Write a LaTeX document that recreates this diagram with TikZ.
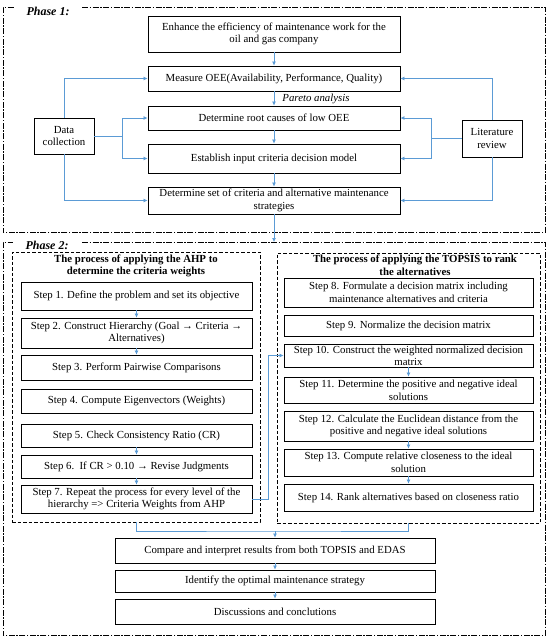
\documentclass[tikz,border=0pt]{standalone}
\usepackage{fontspec}
\setmainfont{Liberation Serif}
\usetikzlibrary{arrows.meta}
\definecolor{conncol}{RGB}{91,155,213}
\begin{document}
\begin{tikzpicture}[x=1pt,y=-1pt,
 box/.style={draw=black, line width=0.9pt, align=center, inner sep=1pt, font=\fontsize{10.8}{12.6}\selectfont},
 conn/.style={draw=conncol, line width=0.7pt},
 arr/.style={conn, -{Latex[length=4pt,width=4pt]}},
 phaseframe/.style={draw=black, line width=0.7pt, dash pattern=on 6pt off 1.5pt on 1.5pt off 1.5pt},
 subframe/.style={draw=black, line width=0.8pt, dash pattern=on 3.5pt off 2pt, inner sep=0pt},
 ttl/.style={font=\bfseries\fontsize{10.8}{12.6}\selectfont, align=center, inner sep=0pt},
 phl/.style={font=\bfseries\itshape\fontsize{12}{14}\selectfont, inner sep=0pt},
 ]
\useasboundingbox (0,0) rectangle (550,641);

% ---------- Phase 1 frame ----------
\draw[phaseframe] (82,7) -- (545,7) -- (545,232) -- (3,232) -- (3,7) -- (14,7);
\node[phl] (ph1) at (48,11) {Phase 1:};

\node[box, minimum width=252pt, minimum height=36pt] (b1) at (274,34) {Enhance the efficiency of maintenance work for the\\oil and gas company};
\node[box, minimum width=252pt, minimum height=25pt] (b2) at (274,78.5) {Measure OEE(Availability, Performance, Quality)};
\node[font=\itshape\fontsize{10.8}{12}\selectfont, inner sep=0pt] (par) at (316,99) {Pareto analysis};
\node[box, minimum width=252pt, minimum height=24pt] (b3) at (274,118) {Determine root causes of low OEE};
\node[box, minimum width=252pt, minimum height=29pt] (b4) at (274,158.5) {Establish input criteria decision model};
\node[box, minimum width=252pt, minimum height=27pt] (b5) at (274,200.5) {Determine set of criteria and alternative maintenance\\strategies};
\node[box, minimum width=60pt, minimum height=36pt] (dc) at (64,136) {Data\\collection};
\node[box, minimum width=60pt, minimum height=37pt] (lr) at (492,138.5) {Literature\\review};

\draw[arr] (b1) -- (b2);
\draw[arr] (b2) -- (b3);
\draw[arr] (b3) -- (b4);
\draw[arr] (b4) -- (b5);

\coordinate (dcj) at (122,136);
\draw[arr] (dc.north) |- (b2.west);
\draw[conn] (dc.east) -- (dcj);
\draw[arr] (dcj) |- (b3.west);
\draw[arr] (dcj) |- (b4.west);
\draw[arr] (dc.south) |- (b5.west);

\coordinate (lrj) at (431,138.5);
\draw[arr] (lr.north) |- (b2.east);
\draw[conn] (lr.west) -- (lrj);
\draw[arr] (lrj) |- (b3.east);
\draw[arr] (lrj) |- (b4.east);
\draw[arr] (lr.south) |- (b5.east);

% ---------- Phase 2 frame ----------
\draw[phaseframe] (82,242) -- (545,242) -- (545,635) -- (3,635) -- (3,242) -- (13,242);
\node[phl] (ph2) at (47,245) {Phase 2:};
\coordinate (p2top) at (274,242);
\draw[arr] (b5) -- (p2top);

% AHP
\node[subframe, minimum width=248pt, minimum height=270pt] (ahp) at (136,387) {};
\node[ttl] (ahpt) at (136,266) {The process of applying the AHP to\\determine the criteria weights};
\node[box, minimum width=231pt, minimum height=28pt] (s1) at (136.5,296) {Step 1. Define the problem and set its objective};
\node[box, minimum width=231pt, minimum height=30pt] (s2) at (136.5,333) {Step 2. Construct Hierarchy (Goal → Criteria →\\Alternatives)};
\node[box, minimum width=231pt, minimum height=25pt] (s3) at (136.5,367.5) {Step 3. Perform Pairwise Comparisons};
\node[box, minimum width=231pt, minimum height=24pt] (s4) at (136.5,401) {Step 4. Compute Eigenvectors (Weights)};
\node[box, minimum width=231pt, minimum height=23pt] (s5) at (136.5,435.5) {Step 5. Check Consistency Ratio (CR)};
\node[box, minimum width=231pt, minimum height=23pt] (s6) at (136.5,466.5) {Step 6.\ \ If CR > 0.10 → Revise Judgments};
\node[box, minimum width=231pt, minimum height=28pt] (s7) at (136.5,499) {Step 7. Repeat the process for every level of the\\hierarchy => Criteria Weights from AHP};
\draw[arr] (s1) -- (s2);
\draw[arr] (s2) -- (s3);
\draw[arr] (s5) -- (s6);
\draw[arr] (s6) -- (s7);

% TOPSIS
\node[subframe, minimum width=263pt, minimum height=270pt] (tps) at (408.5,388) {};
\node[ttl] (tpst) at (415,265) {The process of applying the TOPSIS to rank\\the alternatives};
\node[box, minimum width=249pt, minimum height=29pt] (s8) at (408.5,292.5) {Step 8. Formulate a decision matrix including\\maintenance alternatives and criteria};
\node[box, minimum width=249pt, minimum height=21pt] (s9) at (408.5,325.5) {Step 9. Normalize the decision matrix};
\node[box, minimum width=249pt, minimum height=23pt, font=\fontsize{10.8}{11.8}\selectfont] (s10) at (408.5,355.5) {Step 10. Construct the weighted normalized decision\\matrix};
\node[box, minimum width=249pt, minimum height=26pt] (s11) at (408.5,390) {Step 11. Determine the positive and negative ideal\\solutions};
\node[box, minimum width=249pt, minimum height=30pt] (s12) at (408.5,426) {Step 12. Calculate the Euclidean distance from the\\positive and negative ideal solutions};
\node[box, minimum width=249pt, minimum height=27pt] (s13) at (408.5,462.5) {Step 13. Compute relative closeness to the ideal\\solution};
\node[box, minimum width=249pt, minimum height=27pt] (s14) at (408.5,497.5) {Step 14. Rank alternatives based on closeness ratio};
\draw[arr] (s10) -- (s11);
\draw[arr] (s12) -- (s13);
\draw[arr] (s13) -- (s14);

\draw[arr] (s7.east) -- ++(16,0) |- (s10.west);

% Final steps
\node[box, minimum width=320pt, minimum height=25pt] (cmp) at (275,550.5) {Compare and interpret results from both TOPSIS and EDAS};
\node[box, minimum width=320pt, minimum height=22pt] (idf) at (275,581) {Identify the optimal maintenance strategy};
\node[box, minimum width=320pt, minimum height=25pt] (dsc) at (275,611.5) {Discussions and conclutions};
\coordinate (jn) at (275,531);
\draw[conn] (ahp.south) |- (jn) -| (tps.south);
\draw[arr] (jn) -- (cmp);
\draw[arr] (cmp) -- (idf);
\draw[arr] (idf) -- (dsc);
\end{tikzpicture}
\end{document}
